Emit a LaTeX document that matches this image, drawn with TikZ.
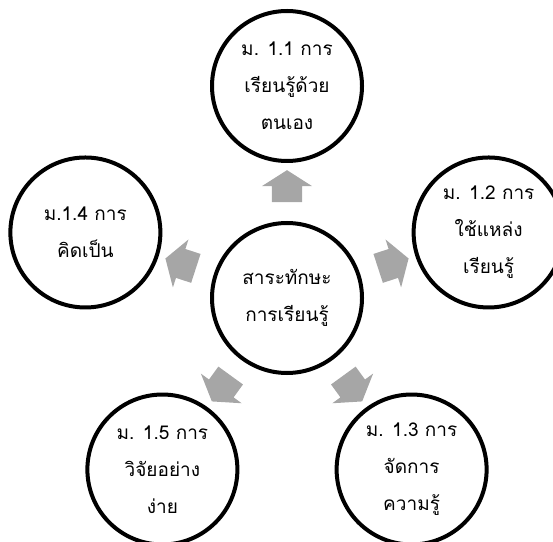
\documentclass[tikz,border=0pt]{standalone}
\usepackage{fontspec}
\newfontfamily\thaifont[Script=Thai]{Loma}
\usetikzlibrary{shapes.arrows}
\tikzset{
	vong/.style={circle,draw=black,line width=4pt,fill=white,minimum size=150pt,inner sep=0pt,align=center,font=\thaifont\fontsize{19}{37}\selectfont},
	muiten/.style={single arrow,fill=black!35,draw=none,inner xsep=0pt,inner ysep=15pt,minimum height=32pt,single arrow head extend=10pt,single arrow tip angle=115}
}
\begin{document}
\begin{tikzpicture}[x=1pt,y=1pt,line join=round,line cap=round]
	\useasboundingbox (0,0) rectangle (553,541);
	\path (287,243) coordinate (O);
	%Vị trí các vòng ngoài
	\path (O)++(90:212) coordinate (C1)
	(O)++(18:212) coordinate (C2)
	(O)++(-54:212) coordinate (C3)
	(O)++(162:212) coordinate (C4)
	(O)++(-126:212) coordinate (C5);
	%Mũi tên
	\foreach \g/\t in {90/a1,18/a2,-54/a3,162/a4,-126/a5}
	\path (O)++(\g:107) node[muiten,rotate=\g] (\t) {};
	%Các vòng
	\node[vong] (tam) at (O) {สาระทักษะ\\การเรียนรู้};
	\node[vong] (m11) at (C1) {ม. 1.1 การ\\เรียนรู้ด้วย\\ตนเอง};
	\node[vong] (m12) at (C2) {ม. 1.2 การ\\ใช้แหล่ง\\เรียนรู้};
	\node[vong] (m13) at (C3) {ม. 1.3 การ\\จัดการ\\ความรู้};
	\node[vong] (m14) at (C4) {ม.1.4 การ\\คิดเป็น};
	\node[vong] (m15) at (C5) {ม. 1.5 การ\\วิจัยอย่าง\\ง่าย};
\end{tikzpicture}
\end{document}
